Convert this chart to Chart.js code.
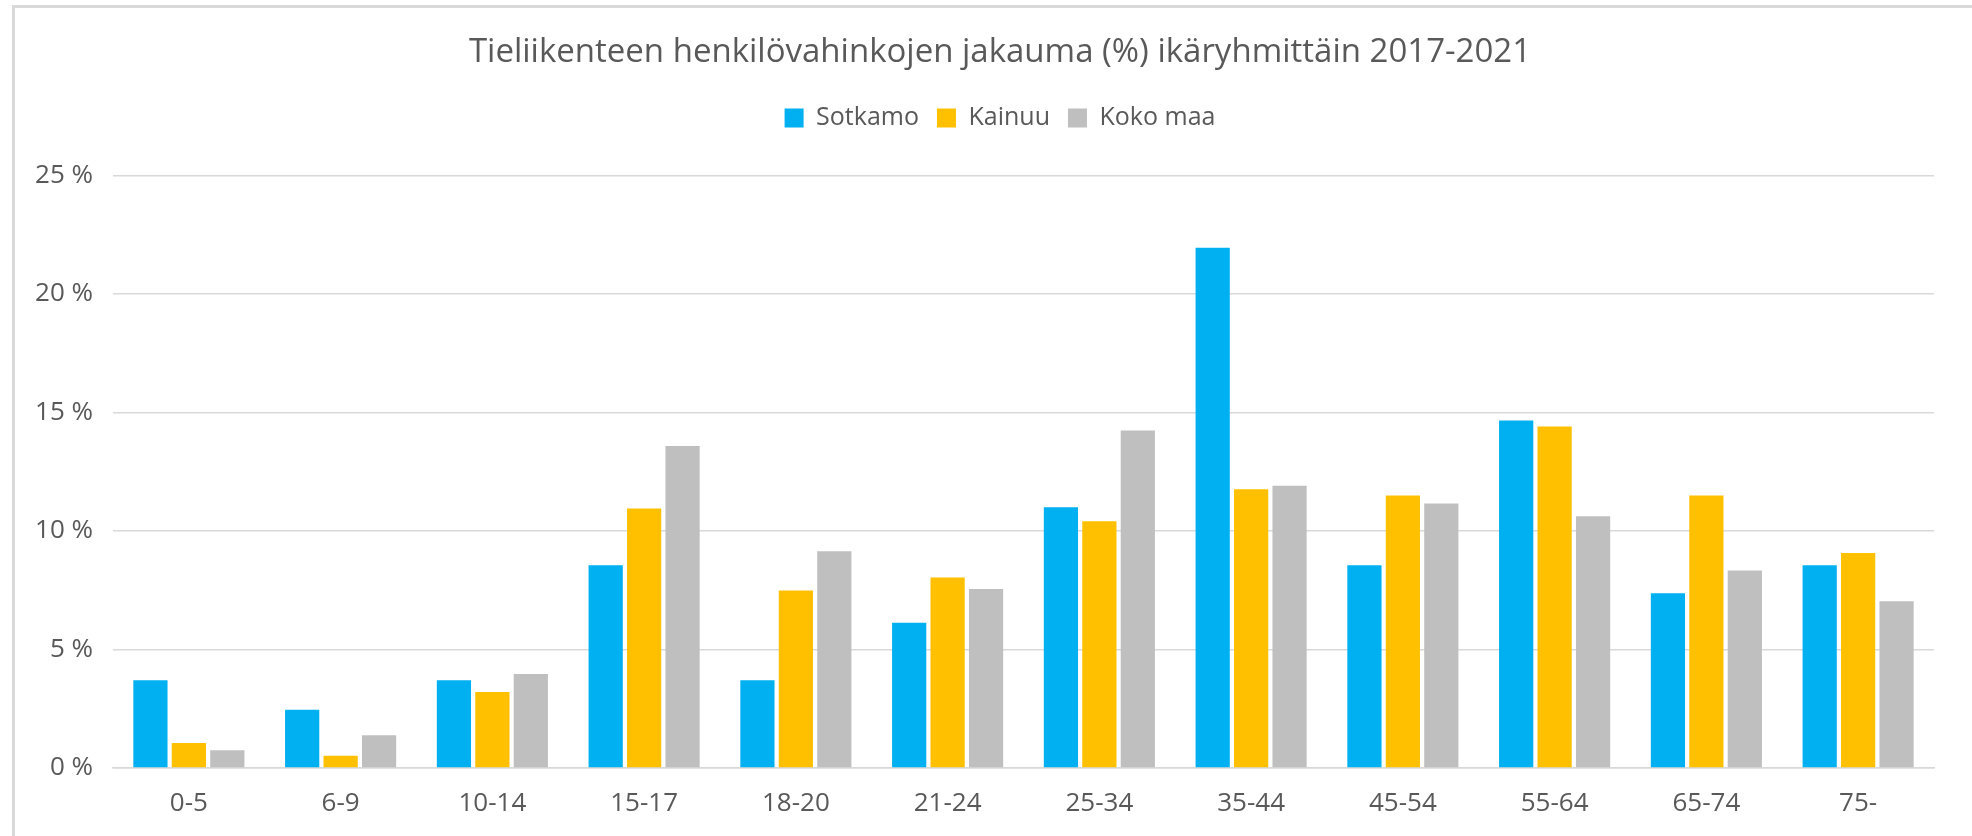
<!DOCTYPE html>
<html>
<head>
<meta charset="utf-8">
<script src="https://cdn.jsdelivr.net/npm/chart.js@4"></script>
<style>
    html, body { margin: 0; padding: 0; background: #fff; }
    #wrap { position: relative; width: 1972px; height: 836px; overflow: hidden; }
    #frame {
        position: absolute; left: 12px; top: 5px; width: 2100px; height: 900px;
        border-left: 3px solid #d9d9d9; border-top: 3px solid #d9d9d9;
        pointer-events: none;
    }
</style>
</head>
<body>
<div id="wrap">
    <canvas id="barChart" width="1972" height="836"></canvas>
    <div id="frame"></div>
</div>
<script>
const ageGroups = ["0-5", "6-9", "10-14", "15-17", "18-20", "21-24", "25-34", "35-44", "45-54", "55-64", "65-74", "75-"];
const sotkamo = [3.7, 2.46, 3.7, 8.56, 3.7, 6.13, 11.0, 21.96, 8.56, 14.66, 7.37, 8.56];
const kainuu = [1.05, 0.52, 3.21, 10.95, 7.49, 8.04, 10.41, 11.76, 11.5, 14.41, 11.5, 9.07];
const kokoMaa = [0.75, 1.38, 3.97, 13.59, 9.15, 7.55, 14.24, 11.91, 11.16, 10.62, 8.33, 7.04];
const yTicks = [0, 5, 10, 15, 20, 25];

const textColor = "#595959";
const fontFamily = "'Open Sans', 'Noto Sans', sans-serif";

// extra space between legend and plot, and nudge title + legend to the right
const headerTweak = {
    id: "headerTweak",
    beforeInit(chart) {
        const fit = chart.legend.fit;
        chart.legend.fit = function () {
            fit.bind(chart.legend)();
            this.height += 35;
        };
    },
    afterLayout(chart) {
        [chart.titleBlock, chart.legend].forEach(b => {
            b.left += 26;
            b.right += 26;
        });
    }
};

new Chart(document.getElementById("barChart"), {
    type: "bar",
    data: {
        labels: ageGroups,
        datasets: [
            { label: "Sotkamo", data: sotkamo, backgroundColor: "#00b0f0" },
            { label: "Kainuu", data: kainuu, backgroundColor: "#ffc000" },
            { label: "Koko maa", data: kokoMaa, backgroundColor: "#bfbfbf" }
        ]
    },
    plugins: [headerTweak],
    options: {
        responsive: false,
        animation: false,
        layout: {
            padding: { left: 14, right: 38, top: 10, bottom: 0 }
        },
        datasets: {
            bar: {
                categoryPercentage: 0.76,
                barPercentage: 0.89
            }
        },
        plugins: {
            title: {
                display: true,
                text: "Tieliikenteen henkilövahinkojen jakauma (%) ikäryhmittäin 2017-2021",
                color: textColor,
                font: { family: fontFamily, size: 33, weight: "normal" },
                padding: { top: 23, bottom: 15 }
            },
            legend: {
                display: true,
                labels: {
                    color: textColor,
                    font: { family: fontFamily, size: 25 },
                    boxWidth: 19,
                    boxHeight: 19,
                    padding: 18
                }
            },
            tooltip: { enabled: false }
        },
        scales: {
            x: {
                grid: { display: false, drawTicks: false },
                border: { display: true, color: "#d9d9d9", width: 1.5 },
                ticks: {
                    color: textColor,
                    font: { family: fontFamily, size: 26 },
                    padding: 20,
                    maxRotation: 0
                },
                afterFit: function (scale) { scale.height = 68; }
            },
            y: {
                min: 0,
                max: 25,
                afterBuildTicks: function (scale) {
                    scale.ticks = yTicks.map(v => ({ value: v }));
                },
                grid: { color: "#d9d9d9", lineWidth: 1.5, drawTicks: false },
                border: { display: false },
                ticks: {
                    color: textColor,
                    font: { family: fontFamily, size: 26 },
                    padding: 20,
                    callback: v => v + " %"
                },
                afterFit: function (scale) { scale.width = 99; }
            }
        }
    }
});
</script>
</body>
</html>
